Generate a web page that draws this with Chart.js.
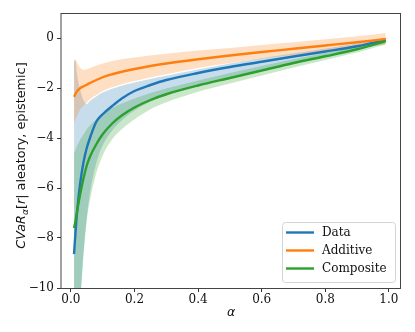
<!DOCTYPE html>
<html>
<head>
<meta charset="utf-8">
<script src="https://cdn.jsdelivr.net/npm/chart.js@4"></script>
<style>
html, body { margin: 0; padding: 0; background: #fff; }
</style>
</head>
<body>
<canvas id="cvarChart" width="415" height="332"></canvas>
<script>
// alpha grid
const alphas = [0.01, 0.015, 0.02, 0.03, 0.04, 0.05, 0.06, 0.08, 0.1, 0.13, 0.16, 0.2, 0.25, 0.3, 0.4, 0.5, 0.6, 0.7, 0.8, 0.9, 0.99];

// Data
const dataMean  = [-8.64, -7.7, -6.9, -5.75, -4.95, -4.4, -4.0, -3.35, -3.05, -2.72, -2.42, -2.12, -1.88, -1.68, -1.4, -1.16, -0.95, -0.74, -0.54, -0.33, -0.08];
const dataUpper = [-0.9, -0.95, -1.5, -2.1, -2.5, -2.64, -2.52, -2.34, -2.18, -2.03, -1.91, -1.78, -1.64, -1.51, -1.26, -1.02, -0.81, -0.61, -0.42, -0.22, 0.0];
const dataLower = [-12.5, -12, -11.5, -10.5, -8.6, -7.2, -6.2, -5.0, -4.3, -3.7, -3.3, -2.9, -2.55, -2.3, -1.92, -1.6, -1.3, -1.0, -0.74, -0.47, -0.2];

// Additive
const addMean  = [-2.35, -2.22, -2.12, -2.0, -1.93, -1.87, -1.8, -1.68, -1.57, -1.45, -1.35, -1.24, -1.12, -1.02, -0.85, -0.7, -0.56, -0.43, -0.3, -0.17, -0.04];
const addUpper = [-0.9, -0.85, -1.0, -1.2, -1.28, -1.25, -1.2, -1.1, -1.02, -0.92, -0.85, -0.78, -0.7, -0.63, -0.5, -0.4, -0.28, -0.17, -0.05, 0.07, 0.2];
const addLower = [-3.4, -3.25, -3.1, -2.85, -2.7, -2.58, -2.45, -2.28, -2.12, -1.97, -1.85, -1.72, -1.58, -1.45, -1.2, -1.0, -0.83, -0.67, -0.52, -0.39, -0.28];

// Composite
const compMean  = [-7.6, -7.3, -6.9, -6.2, -5.6, -5.1, -4.75, -4.25, -3.85, -3.42, -3.1, -2.78, -2.48, -2.25, -1.9, -1.6, -1.3, -1.0, -0.73, -0.45, -0.12];
const compUpper = [-4.6, -4.45, -4.3, -4.05, -3.85, -3.65, -3.5, -3.25, -3.05, -2.8, -2.62, -2.42, -2.2, -2.02, -1.7, -1.4, -1.12, -0.85, -0.6, -0.34, -0.02];
const compLower = [-12.5, -12, -11.5, -10.3, -8.6, -7.3, -6.5, -5.4, -4.7, -4.05, -3.65, -3.25, -2.85, -2.57, -2.15, -1.82, -1.5, -1.18, -0.88, -0.58, -0.25];

const seriesNames = ['Data', 'Additive', 'Composite'];
const seriesColors = ['#1f77b4', '#ff7f0e', '#2ca02c'];
const xTicks = [0, 0.2, 0.4, 0.6, 0.8, 1.0];
const yTicks = [0, -2, -4, -6, -8, -10];

function pts(vals) {
    return alphas.map((a, i) => ({ x: a, y: vals[i] }));
}

function rgba(hex, a) {
    const n = parseInt(hex.slice(1), 16);
    return `rgba(${(n >> 16) & 255}, ${(n >> 8) & 255}, ${n & 255}, ${a})`;
}

function band(upper, lower, color, order) {
    return [
        { data: pts(upper), fill: '+1', backgroundColor: rgba(color, 0.25), borderWidth: 0, pointRadius: 0, order: order },
        { data: pts(lower), fill: false, borderWidth: 0, pointRadius: 0, order: order }
    ];
}

function meanLine(vals, idx, order) {
    return { label: seriesNames[idx], data: pts(vals), borderColor: seriesColors[idx], borderWidth: 2.4, pointRadius: 0, fill: false, order: order };
}

const datasets = [
    meanLine(dataMean, 0, 3),
    meanLine(addMean, 1, 2),
    meanLine(compMean, 2, 1),
    ...band(dataUpper, dataLower, seriesColors[0], 6),
    ...band(addUpper, addLower, seriesColors[1], 5),
    ...band(compUpper, compLower, seriesColors[2], 4)
];

const tickFont = { family: 'DejaVu Serif', size: 12 };

// frame, axis titles and legend
const decorations = {
    id: 'decorations',
    afterDraw(chart) {
        const ctx = chart.ctx;
        const a = chart.chartArea;
        ctx.save();
        ctx.strokeStyle = '#444';
        ctx.lineWidth = 1;
        ctx.strokeRect(a.left, a.top + 0.5, a.right - a.left - 0.5, a.bottom - a.top);

        // x title
        ctx.fillStyle = '#111';
        ctx.font = 'italic 12.5px "DejaVu Sans"';
        ctx.textAlign = 'center';
        ctx.textBaseline = 'middle';
        ctx.fillText('\u03b1', (a.left + a.right) / 2, 313);

        // y title with subscript
        const parts = [
            { t: 'CVaR', f: 'italic 12.8px "DejaVu Sans"', dy: 0 },
            { t: '\u03b1', f: 'italic 9px "DejaVu Sans"', dy: 3 },
            { t: '[', f: '12.8px "DejaVu Sans"', dy: 0 },
            { t: 'r', f: 'italic 12.8px "DejaVu Sans"', dy: 0 },
            { t: '| aleatory, epistemic]', f: '12.8px "DejaVu Sans"', dy: 0 }
        ];
        let total = 0;
        parts.forEach(p => { ctx.font = p.f; p.w = ctx.measureText(p.t).width; total += p.w; });
        ctx.translate(21, (a.top + a.bottom) / 2 + 5);
        ctx.rotate(-Math.PI / 2);
        ctx.textAlign = 'left';
        ctx.textBaseline = 'alphabetic';
        let x = -total / 2;
        parts.forEach(p => {
            ctx.font = p.f;
            ctx.fillText(p.t, x, 4 + p.dy);
            x += p.w;
        });
        ctx.restore();

        // legend
        ctx.save();
        const bx = 282, by = 222, bw = 113, bh = 60;
        ctx.beginPath();
        ctx.roundRect(bx + 0.5, by + 0.5, bw, bh, 3);
        ctx.fillStyle = 'rgba(255,255,255,0.85)';
        ctx.fill();
        ctx.strokeStyle = '#d4d4d4';
        ctx.lineWidth = 1;
        ctx.stroke();
        ctx.font = '12px "DejaVu Serif"';
        ctx.textBaseline = 'middle';
        ctx.textAlign = 'left';
        seriesNames.forEach((name, i) => {
            const y = by + 10.5 + i * 18;
            ctx.strokeStyle = seriesColors[i];
            ctx.lineWidth = 2.4;
            ctx.beginPath();
            ctx.moveTo(bx + 4, y);
            ctx.lineTo(bx + 32, y);
            ctx.stroke();
            ctx.fillStyle = '#111';
            ctx.fillText(name, bx + 40, y);
        });
        ctx.restore();
    }
};

new Chart(document.getElementById('cvarChart'), {
    type: 'line',
    data: { datasets: datasets },
    options: {
        responsive: false,
        animation: false,
        devicePixelRatio: 1,
        layout: { padding: { top: 13, right: 14, left: 0, bottom: 0 } },
        elements: { line: { cubicInterpolationMode: 'monotone' } },
        plugins: {
            legend: { display: false },
            tooltip: { enabled: false },
            filler: { propagate: false }
        },
        scales: {
            x: {
                type: 'linear',
                min: -0.031,
                max: 1.038,
                afterBuildTicks: s => { s.ticks = xTicks.map(v => ({ value: v })); },
                afterFit: s => { s.height = 44; },
                ticks: { callback: v => v.toFixed(1), font: tickFont, color: '#111', padding: 1, maxRotation: 0, autoSkip: false },
                grid: { drawOnChartArea: false, drawTicks: true, tickLength: 4, color: '#333' },
                border: { display: false }
            },
            y: {
                min: -10,
                max: 1,
                afterBuildTicks: s => { s.ticks = yTicks.map(v => ({ value: v })); },
                afterFit: s => { s.width = 61; },
                ticks: { callback: v => v < 0 ? '\u2212' + Math.abs(v) : String(v), font: tickFont, color: '#111', padding: 3, autoSkip: false },
                grid: { drawOnChartArea: false, drawTicks: true, tickLength: 4, color: '#333' },
                border: { display: false }
            }
        }
    },
    plugins: [decorations]
});
</script>
</body>
</html>
